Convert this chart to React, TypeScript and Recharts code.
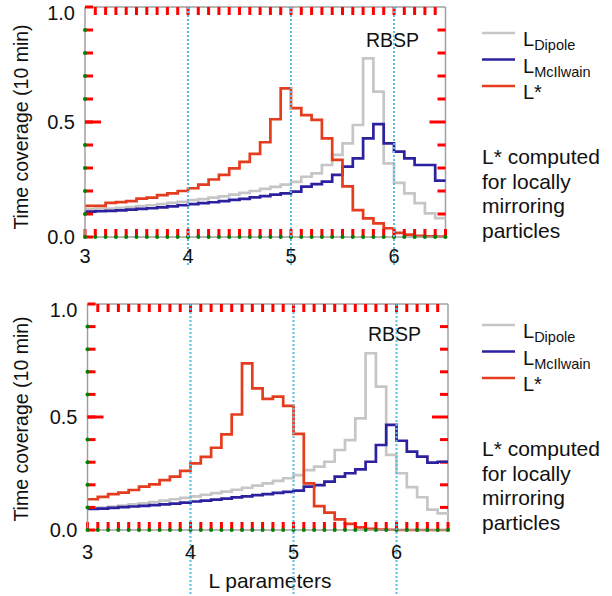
import React from "react"
import { LineChart, Line, XAxis, YAxis, ReferenceLine } from "recharts"

// bin starts (width 0.1) on the L axis
const binStart = [
    3.0, 3.1, 3.2, 3.3, 3.4, 3.5, 3.6, 3.7, 3.8, 3.9,
    4.0, 4.1, 4.2, 4.3, 4.4, 4.5, 4.6, 4.7, 4.8, 4.9,
    5.0, 5.1, 5.2, 5.3, 5.4, 5.5, 5.6, 5.7, 5.8, 5.9,
    6.0, 6.1, 6.2, 6.3, 6.4,
]
const binEnd = 6.5

const dipoleTop = [
    0.120, 0.122, 0.124, 0.127, 0.130, 0.134, 0.138, 0.143, 0.148, 0.153,
    0.160, 0.165, 0.171, 0.177, 0.184, 0.192, 0.200, 0.209, 0.218, 0.228,
    0.240, 0.262, 0.277, 0.313, 0.357, 0.407, 0.487, 0.777, 0.632, 0.320,
    0.235, 0.190, 0.147, 0.103, 0.082,
]
const mcilwainTop = [
    0.110, 0.112, 0.114, 0.116, 0.119, 0.122, 0.125, 0.129, 0.133, 0.138,
    0.143, 0.147, 0.151, 0.156, 0.161, 0.166, 0.172, 0.178, 0.184, 0.190,
    0.197, 0.219, 0.230, 0.241, 0.270, 0.306, 0.342, 0.429, 0.491, 0.407,
    0.371, 0.342, 0.313, 0.313, 0.245,
]
const lstarTop = [
    0.135, 0.135, 0.148, 0.152, 0.156, 0.167, 0.171, 0.182, 0.190, 0.200,
    0.212, 0.228, 0.250, 0.270, 0.298, 0.327, 0.361, 0.412, 0.512, 0.646,
    0.560, 0.530, 0.509, 0.429, 0.335, 0.220, 0.117, 0.081, 0.059, 0.038,
    0.018, 0.010, 0.005, 0.003, 0.002,
]

const dipoleBottom = [
    0.095, 0.099, 0.103, 0.108, 0.113, 0.118, 0.124, 0.130, 0.136, 0.142,
    0.149, 0.156, 0.163, 0.170, 0.178, 0.187, 0.196, 0.206, 0.217, 0.229,
    0.243, 0.265, 0.280, 0.302, 0.354, 0.398, 0.494, 0.782, 0.634, 0.332,
    0.251, 0.190, 0.145, 0.090, 0.074,
]
const mcilwainBottom = [
    0.093, 0.095, 0.098, 0.101, 0.104, 0.107, 0.110, 0.113, 0.117, 0.121,
    0.126, 0.130, 0.134, 0.139, 0.144, 0.149, 0.154, 0.159, 0.164, 0.169,
    0.174, 0.192, 0.199, 0.214, 0.236, 0.251, 0.268, 0.302, 0.376, 0.465,
    0.395, 0.347, 0.325, 0.298, 0.302,
]
const lstarBottom = [
    0.136, 0.147, 0.159, 0.165, 0.177, 0.192, 0.202, 0.221, 0.236, 0.262,
    0.295, 0.324, 0.364, 0.423, 0.511, 0.737, 0.627, 0.580, 0.590, 0.549,
    0.425, 0.206, 0.106, 0.077, 0.047, 0.027, 0.012, 0.005, 0.002, 0.001,
    0.000, 0.000, 0.000, 0.000, 0.000,
]

const xLabels = [3, 4, 5, 6]
const yLabels = [0, 0.5, 1]
const legendSubs = ["Dipole", "McIlwain", "*"]
const noteLines = ["L* computed", "for locally", "mirroring", "particles"]

const FONT = '"Liberation Sans", Arial, Helvetica, sans-serif'
const COLORS = { dipole: "#c6c6c6", mcilwain: "#2c219f", lstar: "#e43c1e" }
const FRAME = "#a0a0a0"
const TICK = "red"
const DOT = "#5bbde2"
const TICK_LEN = 8

const xTicks = Array.from({ length: 36 }, (_, i) => Math.round((3 + i * 0.1) * 10) / 10)
const yTicks = Array.from({ length: 11 }, (_, i) => i / 10)
const near = (a: number, b: number) => Math.abs(a - b) < 1e-6

interface PanelProps {
    dipole: number[]
    mcilwain: number[]
    lstar: number[]
    height: number
    plot: { left: number; right: number; top: number; bottom: number }
    labelDy: number
    dotDown: number
}

function Panel({ dipole, mcilwain, lstar, height, plot, labelDy, dotDown }: PanelProps) {
    const rows = binStart.map((L, i) => ({ L, dipole: dipole[i], mcilwain: mcilwain[i], lstar: lstar[i] }))
    const last = binStart.length - 1
    rows.push({ L: binEnd, dipole: dipole[last], mcilwain: mcilwain[last], lstar: lstar[last] })

    const plotH = plot.bottom - plot.top
    const plotW = plot.right - plot.left
    const dyTick = TICK_LEN / plotH
    const dxTick = (TICK_LEN * (binEnd - 3)) / plotW
    const dxLong = (16 * (binEnd - 3)) / plotW

    const bottomTick = (p: any) => {
        const v = Number(p.payload.value)
        const isLabel = xLabels.some(l => near(l, v))
        return (
            <g>
                <circle cx={p.x} cy={p.y} r={2} fill="green" />
                {isLabel && v > 3.5 && (
                    <line x1={p.x} x2={p.x} y1={p.y - plotH} y2={p.y + dotDown} stroke={DOT} strokeWidth={2} strokeDasharray="2 2" />
                )}
                {isLabel && <text x={p.x} y={p.y + labelDy} textAnchor="middle" fontSize={20} fontFamily={FONT} fill="#111">{v}</text>}
            </g>
        )
    }
    const leftTick = (p: any) => {
        const v = Number(p.payload.value)
        if (!yLabels.some(l => near(l, v))) return <circle cx={p.x} cy={p.y} r={2} fill="green" />
        const dy = near(v, 1) ? 13 : 7
        return (
            <g>
                {near(v, 0.5) && <line x1={p.x} x2={p.x + 16} y1={p.y} y2={p.y} stroke={TICK} strokeWidth={3} />}
                <text x={p.x - 10} y={p.y + dy} textAnchor="end" fontSize={20} fontFamily={FONT} fill="#111">{v.toFixed(1)}</text>
            </g>
        )
    }

    const axisLine = { stroke: FRAME, strokeWidth: 1.5 }
    const tickLine = { stroke: TICK, strokeWidth: 3 }
    const inner = xTicks.filter(v => v > 3.05 && v < 6.45)
    const innerY = yTicks.filter(v => v > 0.05 && v < 0.95)

    return (
        <LineChart
            width={612}
            height={height}
            data={rows}
            margin={{ top: plot.top, left: plot.left - 40, right: 612 - plot.right, bottom: height - plot.bottom - 30 }}
        >
            <XAxis dataKey="L" type="number" domain={[3, binEnd]} ticks={xTicks} interval={0}
                height={30} tickSize={-TICK_LEN} tickMargin={TICK_LEN} tickLine={tickLine} axisLine={axisLine} tick={bottomTick} />
            <YAxis type="number" domain={[0, 1]} ticks={yTicks} interval={0}
                width={40} tickSize={-TICK_LEN} tickMargin={TICK_LEN} tickLine={tickLine} axisLine={axisLine} tick={leftTick} />

            <ReferenceLine y={1} stroke={FRAME} strokeWidth={1.5} ifOverflow="visible" />
            <ReferenceLine x={binEnd} stroke={FRAME} strokeWidth={1.5} ifOverflow="visible" />
            {inner.map(v => (
                <ReferenceLine key={`xt${v}`} stroke={TICK} strokeWidth={3} ifOverflow="visible"
                    segment={[{ x: v, y: 1 - dyTick }, { x: v, y: 1 }]} />
            ))}
            {innerY.map(v => (
                <ReferenceLine key={`yr${v}`} stroke={TICK} strokeWidth={3} ifOverflow="visible"
                    segment={[{ x: binEnd - (near(v, 0.5) ? dxLong : dxTick), y: v }, { x: binEnd, y: v }]} />
            ))}

            <Line type="stepAfter" dataKey="dipole" stroke={COLORS.dipole} strokeWidth={2.7} dot={false} isAnimationActive={false} />
            <Line type="stepAfter" dataKey="mcilwain" stroke={COLORS.mcilwain} strokeWidth={2.7} dot={false} isAnimationActive={false} />
            <Line type="stepAfter" dataKey="lstar" stroke={COLORS.lstar} strokeWidth={2.7} dot={false} isAnimationActive={false} />
        </LineChart>
    )
}

function Annotations({ dy, yLabelCenter, rbsp }: { dy: number; yLabelCenter: number; rbsp: { x: number; y: number } }) {
    const legendColors = [COLORS.dipole, COLORS.mcilwain, COLORS.lstar]
    return (
        <g fontFamily={FONT} fill="#111">
            <text x={28} y={yLabelCenter} transform={`rotate(-90 28 ${yLabelCenter})`} textAnchor="middle" fontSize={19.5}>
                Time coverage (10 min)
            </text>
            <text x={rbsp.x} y={rbsp.y} fontSize={19.5}>RBSP</text>
            {legendSubs.map((s, i) => {
                const ly = 33 + dy + i * 26.5
                return (
                    <g key={s}>
                        <line x1={482} x2={515} y1={ly} y2={ly} stroke={legendColors[i]} strokeWidth={2.6} />
                        {s === "*" ? (
                            <text x={523} y={ly + 13} fontSize={20}>L*</text>
                        ) : (
                            <text x={523} y={ly + 13} fontSize={20}>
                                L<tspan fontSize={14.5} dy={4}>{s}</tspan>
                            </text>
                        )}
                    </g>
                )
            })}
            {noteLines.map((t, i) => (
                <text key={t} x={482} y={164 + dy + i * 24.5} fontSize={21}>{t}</text>
            ))}
        </g>
    )
}

export default function App() {
    return (
        <div style={{ position: "absolute", left: 0, top: 0, width: 612, height: 596, background: "#fff", overflow: "hidden" }}>
            <svg width={612} height={596} style={{ position: "absolute", left: 0, top: 0 }}>
                <Annotations dy={0} yLabelCenter={127} rbsp={{ x: 366, y: 47 }} />
                <Annotations dy={292} yLabelCenter={419} rbsp={{ x: 368, y: 341 }} />
                <text x={270} y={588} textAnchor="middle" fontSize={21} fontFamily={FONT} fill="#111">L parameters</text>
            </svg>
            <div style={{ position: "absolute", left: 0, top: 0 }}>
                <Panel dipole={dipoleTop} mcilwain={mcilwainTop} lstar={lstarTop} height={296}
                    plot={{ left: 85, right: 445.5, top: 7, bottom: 237 }} labelDy={26} dotDown={30} />
            </div>
            <div style={{ position: "absolute", left: 0, top: 296 }}>
                <Panel dipole={dipoleBottom} mcilwain={mcilwainBottom} lstar={lstarBottom} height={300}
                    plot={{ left: 87.5, right: 448, top: 8, bottom: 234 }} labelDy={29} dotDown={70} />
            </div>
        </div>
    )
}
